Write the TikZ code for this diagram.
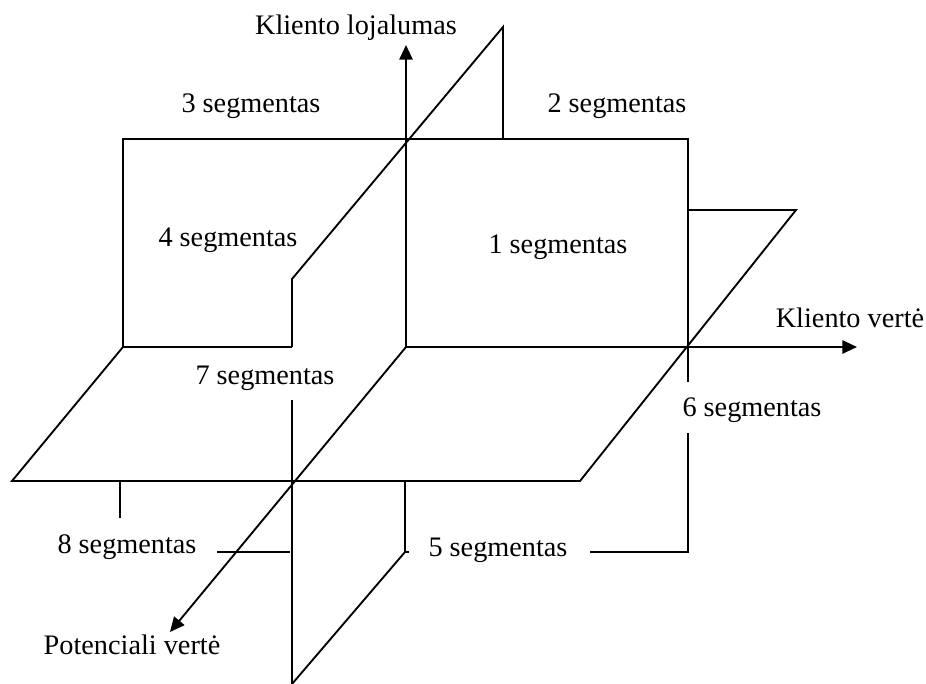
\documentclass[tikz,border=0pt]{standalone}
\usepackage{fontspec}
\setmainfont{Liberation Serif}
\usetikzlibrary{arrows.meta}
\tikzset{
  edge/.style={line width=1.4pt,line join=miter},
  axis/.style={edge,-{Triangle[length=11pt,width=10pt]}},
  seglab/.style={anchor=base,inner sep=0pt,font=\fontsize{21.2}{25}\selectfont},
}

\begin{document}
\begin{tikzpicture}[x=0.75pt,y=-0.75pt]
    \useasboundingbox (0,0) rectangle (926,684);
    % --- origin and axis ends
    \coordinate (O)  at (406,347);
    \coordinate (Oy) at (406,45);
    \coordinate (Ox) at (857,347);
    \coordinate (Oz) at (170,632);
    % --- front plane, upper half
    \draw[edge] (123,347)--(123,139)--(688,139)--(688,382);
    \draw[edge] (123,347)--(292,347);
    % --- side plane, upper half
    \draw[edge] (292,347)--(292,279)--(503,27)--(503,139);
    % --- horizontal plane
    \draw[edge] (123,347)--(12,481)--(580,481)--(796,210)--(688,210);
    % --- side plane, lower half
    \draw[edge] (292,400)--(292,684);
    \draw[edge] (405,481)--(405,552)--(292,684);
    \draw[edge] (405,552)--(409,552);
    % --- front plane, lower half
    \draw[edge] (120,481)--(120,518);
    \draw[edge] (217,552)--(290,552);
    \draw[edge] (590,552)--(688,552)--(688,433);
    % --- axes
    \draw[axis] (O)--(Oy);
    \draw[axis] (O)--(Ox);
    \draw[axis] (O)--(Oz);
    % --- labels
    \node[seglab] (ylab) at (356,35)  {Kliento lojalumas};
    \node[seglab] (xlab) at (850,328) {Kliento vertė};
    \node[seglab] (zlab) at (132,654) {Potenciali vertė};
    \node[seglab] (s1) at (558,254) {1 segmentas};
    \node[seglab] (s2) at (617,113) {2 segmentas};
    \node[seglab] (s3) at (251,113) {3 segmentas};
    \node[seglab] (s4) at (228,247) {4 segmentas};
    \node[seglab] (s5) at (498,557) {5 segmentas};
    \node[seglab] (s6) at (752,417) {6 segmentas};
    \node[seglab] (s7) at (265,385) {7 segmentas};
    \node[seglab] (s8) at (127,554) {8 segmentas};
  \end{tikzpicture}
\end{document}
